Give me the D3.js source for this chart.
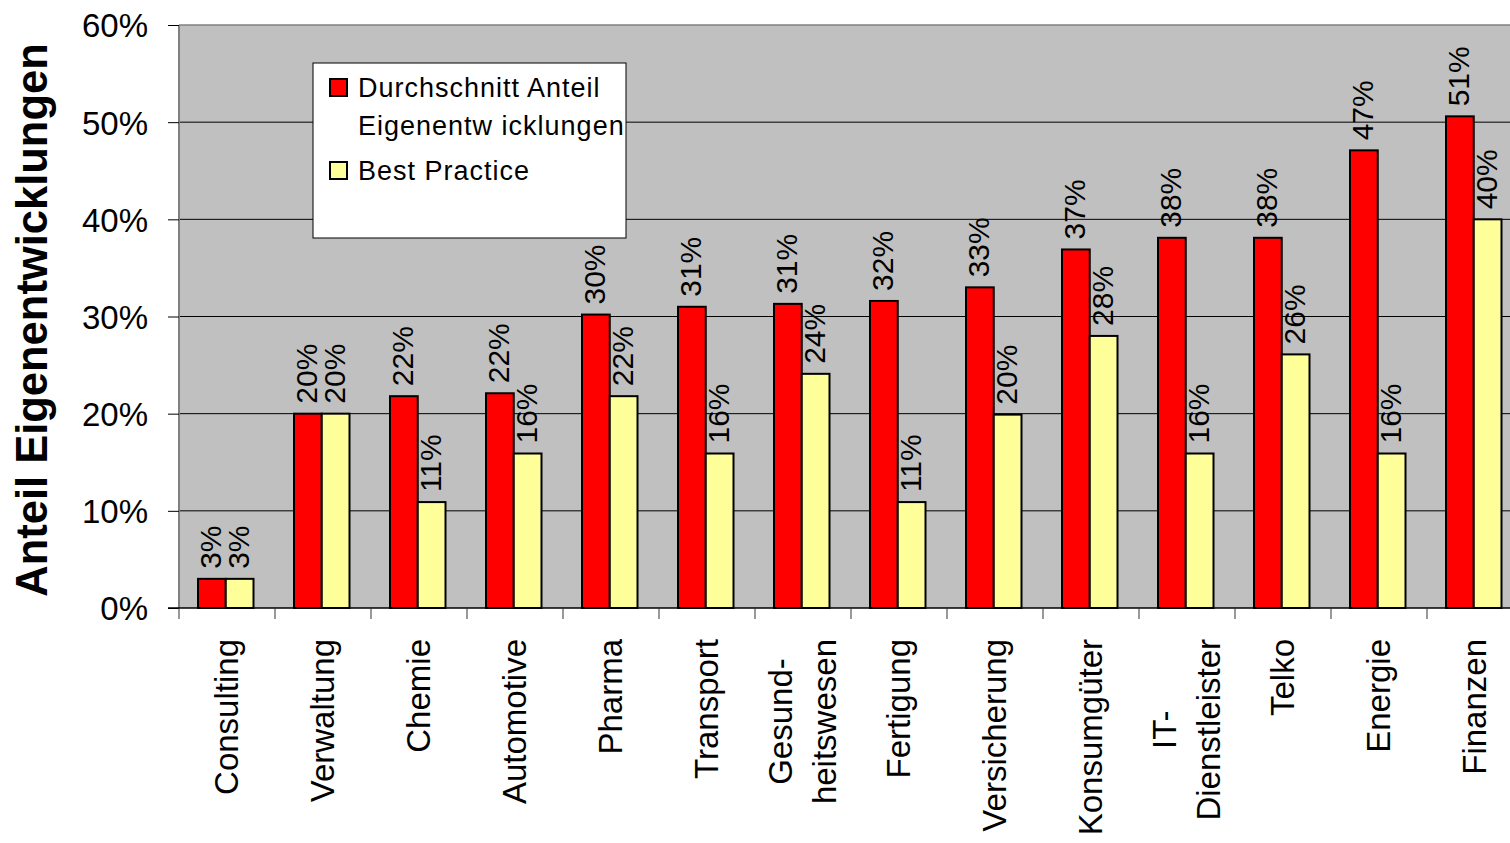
<!DOCTYPE html>
<html>
<head>
<meta charset="utf-8">
<script src="https://cdn.jsdelivr.net/npm/d3@7"></script>
<style>
  body { margin: 0; background: #fff; }
  svg { display: block; font-family: "Liberation Sans", Arial, sans-serif; }
</style>
</head>
<body>
<svg id="chart" width="1510" height="843"></svg>
<script>
// data (percent)
const categories = ["Consulting", "Verwaltung", "Chemie", "Automotive", "Pharma", "Transport",
  "Gesund-\nheitswesen", "Fertigung", "Versicherung", "Konsumgüter", "IT-\nDienstleister",
  "Telko", "Energie", "Finanzen"];
const durchschnitt = [3, 20, 21.8, 22.1, 30.2, 31.0, 31.3, 31.6, 33.0, 36.9, 38.1, 38.1, 47.1, 50.6];
const bestPractice = [3, 20, 10.9, 15.9, 21.8, 15.9, 24.1, 10.9, 19.9, 28.0, 15.9, 26.1, 15.9, 40];
const seriesNames = ["Durchschnitt Anteil\nEigenentw icklungen", "Best Practice"];
const seriesColors = ["#ff0000", "#ffff99"];
const yTicks = [0, 10, 20, 30, 40, 50, 60];
const yTitle = "Anteil Eigenentwicklungen";

const svg = d3.select("#chart");
const plotLeft = 179, plotTop = 25, plotBottom = 608, step = 96;
const plotRight = plotLeft + step * categories.length; // runs past the window edge, like the source

const x0 = d3.scaleBand().domain(d3.range(categories.length)).range([plotLeft, plotRight]);
const x1 = d3.scaleBand().domain([0, 1]).range([19, 74.5]);
const y = d3.scaleLinear().domain([0, 60]).range([plotBottom, plotTop]);

// plot area
svg.append("rect")
  .attr("x", plotLeft).attr("y", plotTop)
  .attr("width", plotRight - plotLeft).attr("height", plotBottom - plotTop)
  .attr("fill", "#c0c0c0");

// gridlines
svg.append("g")
  .selectAll("line")
  .data(yTicks.filter(d => d > 0 && d < 60))
  .join("line")
  .attr("x1", plotLeft).attr("x2", plotRight)
  .attr("y1", d => y(d)).attr("y2", d => y(d))
  .attr("stroke", "#000").attr("stroke-width", 1);

// top and left border
svg.append("line").attr("x1", plotLeft).attr("x2", plotRight).attr("y1", plotTop).attr("y2", plotTop)
  .attr("stroke", "#808080").attr("stroke-width", 1.5);
svg.append("line").attr("x1", plotLeft).attr("x2", plotLeft).attr("y1", plotTop).attr("y2", plotBottom)
  .attr("stroke", "#808080").attr("stroke-width", 2);

// y axis
const yAxis = d3.axisLeft(y).tickValues(yTicks).tickSize(11).tickFormat(d => d + "%");
const gy = svg.append("g").attr("transform", `translate(${plotLeft},0)`).call(yAxis);
gy.select(".domain").remove();
gy.selectAll(".tick line").attr("stroke", "#000");
gy.selectAll(".tick text")
  .attr("x", -31)
  .attr("dy", "0.36em")
  .style("font-size", "33px")
  .attr("fill", "#000");

// bars
const data = categories.map((c, i) => ({ i, vals: [durchschnitt[i], bestPractice[i]] }));
const groups = svg.append("g").selectAll("g")
  .data(data)
  .join("g")
  .attr("transform", d => `translate(${x0(d.i)},0)`);

groups.selectAll("rect")
  .data(d => d.vals.map((v, s) => ({ v, s })))
  .join("rect")
  .attr("x", d => x1(d.s))
  .attr("y", d => y(d.v))
  .attr("width", x1.bandwidth())
  .attr("height", d => y(0) - y(d.v))
  .attr("fill", d => seriesColors[d.s])
  .attr("stroke", "#000")
  .attr("stroke-width", 2);

groups.selectAll("text")
  .data(d => d.vals.map((v, s) => ({ v, s })))
  .join("text")
  .attr("transform", d => `translate(${x1(d.s) + x1.bandwidth() / 2},${y(d.v) - 10}) rotate(-90)`)
  .attr("dy", "0.3em")
  .style("font-size", "30px")
  .attr("fill", "#000")
  .text(d => d3.format(".0f")(d.v) + "%");

// x axis line + ticks
svg.append("line").attr("x1", plotLeft - 11).attr("x2", plotRight).attr("y1", plotBottom).attr("y2", plotBottom)
  .attr("stroke", "#000").attr("stroke-width", 1.5);
svg.append("g").selectAll("line")
  .data(d3.range(categories.length + 1))
  .join("line")
  .attr("x1", d => plotLeft + d * step).attr("x2", d => plotLeft + d * step)
  .attr("y1", plotBottom).attr("y2", plotBottom + 11)
  .attr("stroke", "#333").attr("stroke-width", 1);

// category labels, rotated, top-aligned under the axis
const lineH = 44;
const cat = svg.append("g").selectAll("g")
  .data(categories)
  .join("g")
  .attr("class", "cat");
cat.each(function (c, i) {
  const g = d3.select(this);
  const lines = c.split("\n");
  const t = g.selectAll("text").data(lines).join("text")
    .style("font-size", "33px")
    .attr("fill", "#000")
    .attr("text-anchor", "middle")
    .text(d => d);
  let w = 0;
  t.each(function () { w = Math.max(w, this.getComputedTextLength()); });
  t.attr("x", -w / 2)
    .attr("y", (d, k) => (k - (lines.length - 1) / 2) * lineH)
    .attr("dy", "0.35em");
  g.attr("transform", `translate(${x0(i) + x0.bandwidth() / 2 - 1},639) rotate(-90)`);
});

// y title
svg.append("text")
  .attr("transform", `translate(47,320) rotate(-90)`)
  .attr("text-anchor", "middle")
  .style("font-size", "43.5px")
  .style("font-weight", "bold")
  .attr("fill", "#000")
  .text(yTitle);

// legend
const lg = svg.append("g").attr("transform", "translate(313,63)");
lg.append("rect").attr("width", 313).attr("height", 175)
  .attr("fill", "#fff").attr("stroke", "#000").attr("stroke-width", 1);
const legendRows = [{ y: 25, lines: seriesNames[0].split("\n") }, { y: 108, lines: seriesNames[1].split("\n") }];
legendRows.forEach((r, s) => {
  lg.append("rect")
    .attr("x", 17).attr("y", r.y - 9)
    .attr("width", 17).attr("height", 17)
    .attr("fill", seriesColors[s]).attr("stroke", "#000").attr("stroke-width", 2);
  lg.append("text")
    .attr("x", 45).attr("y", r.y)
    .style("font-size", "27px")
    .style("letter-spacing", "1px")
    .attr("fill", "#000")
    .selectAll("tspan").data(r.lines).join("tspan")
    .attr("x", 45)
    .attr("dy", (d, k) => k === 0 ? "0.35em" : "38px")
    .text(d => d);
});
</script>
</body>
</html>
